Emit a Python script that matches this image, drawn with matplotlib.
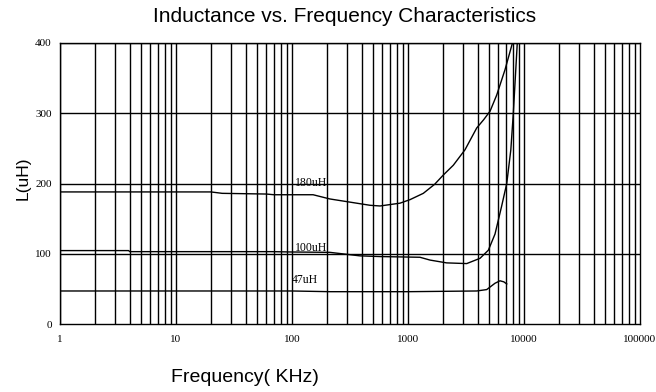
import matplotlib
matplotlib.use('Agg')
from matplotlib import pyplot as plt
import numpy as np

# frequency (kHz) and inductance (uH) for each part
f_180 = [1, 20, 25, 60, 70, 152, 212, 470, 574, 853, 1040, 1355, 1700, 2014, 2458, 3100, 3910,
         4500, 5100, 5820, 6860, 7950]
L_180 = [188, 188, 186, 185, 184, 184, 178, 169, 168, 172, 177, 186, 199, 212, 226, 248, 279,
         291, 303, 326, 362, 400]

f_100 = [1, 3.9, 4.0, 67, 100, 212, 385, 574, 1268, 1548, 2153, 3207, 4176, 4926, 5623, 6010,
         6400, 7100, 7700, 8090, 8750]
L_100 = [104.5, 104.5, 103, 103, 102.5, 102, 97, 96, 95, 91, 87, 86, 93.5, 105, 128, 148,
         167, 200, 248, 300, 400]

f_47 = [1, 100, 212, 1000, 3910, 4770, 5623, 6210, 6700, 7100]
L_47 = [47, 47, 46, 46, 47, 49, 58, 61.5, 60, 57]

labels = ['180uH', '100uH', '47uH']
label_pos = [(106, 201), (106, 108), (100, 62)]

y_ticks = [0, 100, 200, 300, 400]
x_ticks = [1, 10, 100, 1000, 10000, 100000]
x_ticklabels = ['1', '10', '100', '1000', '10000', '100000']

fig = plt.figure(figsize=(6.56, 3.92), dpi=100)
ax = fig.add_axes([60 / 656, 1 - 324 / 392, 580 / 656, 281 / 392])

ax.set_xscale('log')
ax.set_xlim(1, 100000)
ax.set_ylim(0, 400)

# grid: every 1..9 per decade, and every 100 uH
for dec in range(5):
    for m in range(1, 10):
        ax.axvline(m * 10 ** dec, color='black', lw=1.0, zorder=1)
for v in y_ticks[1:]:
    ax.axhline(v, color='black', lw=1.0, zorder=1)

for f, L in [(f_180, L_180), (f_100, L_100), (f_47, L_47)]:
    ax.plot(f, L, color='black', lw=1.0, zorder=2)

for text, (x, y) in zip(labels, label_pos):
    ax.text(x, y, text, fontsize=8.5, family='Liberation Serif', ha='left', va='center', zorder=3)

ax.set_xticks(x_ticks)
ax.set_xticklabels(x_ticklabels)
ax.set_yticks(y_ticks)
ax.minorticks_off()
ax.tick_params(length=0, labelsize=8)
ax.tick_params(axis='x', pad=8)
ax.tick_params(axis='y', pad=6)
for lab in ax.get_xticklabels() + ax.get_yticklabels():
    lab.set_family('Liberation Serif')
for s in ax.spines.values():
    s.set_color('black')
    s.set_linewidth(1.0)

fig.text(345 / 656, 1 - 17 / 392, 'Inductance vs. Frequency Characteristics',
         fontsize=15, family='Liberation Sans', ha='center', va='center')
fig.text(23 / 656, 1 - 178 / 392, 'L(uH)', fontsize=12.5, family='Liberation Sans',
         rotation=90, ha='center', va='center')
fig.text(245 / 656, 1 - 378 / 392, 'Frequency( KHz)', fontsize=14, family='Liberation Sans',
         ha='center', va='center')

fig.savefig('out.png', dpi=100)
